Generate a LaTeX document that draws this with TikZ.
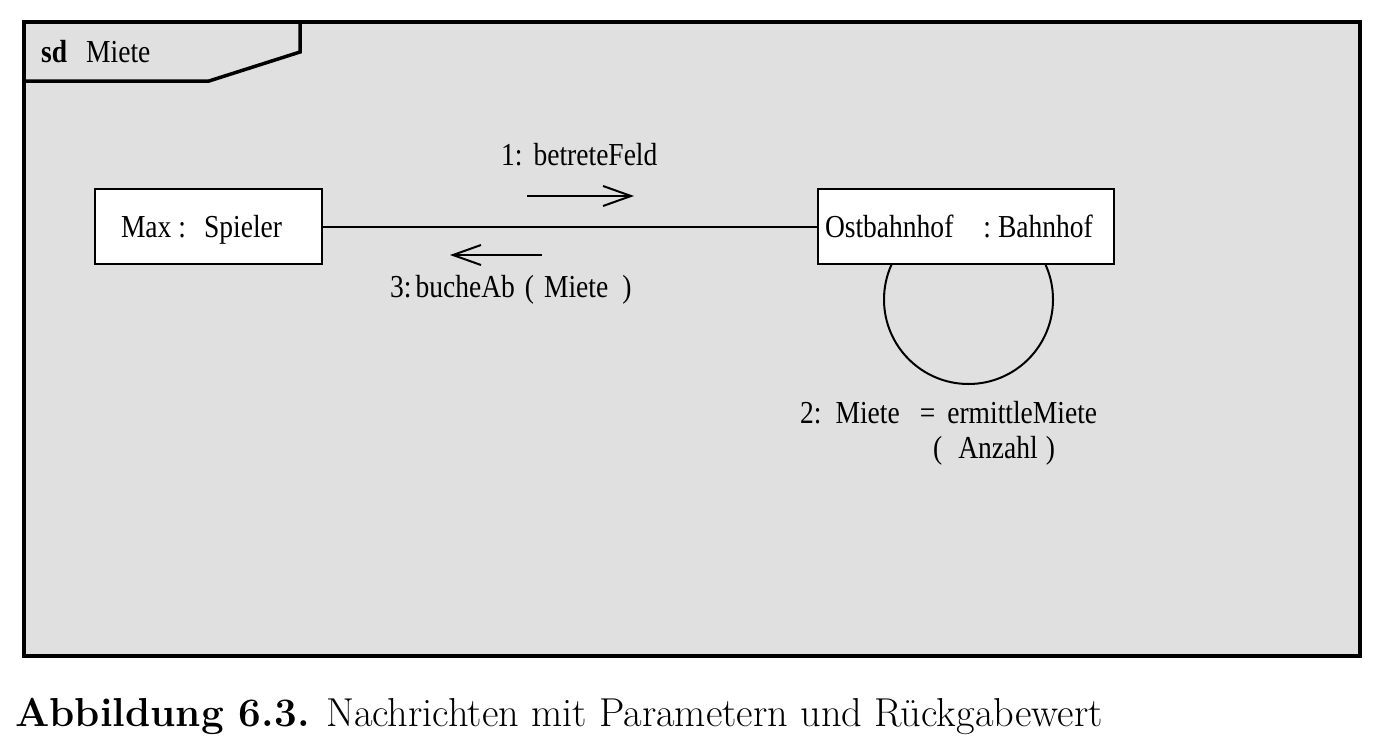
\documentclass[tikz,border=0pt]{standalone}
\usepackage{fontspec}
\setmainfont{Latin Modern Roman}
\newfontfamily\diag[FakeStretch=0.86]{Liberation Serif}
\usetikzlibrary{arrows.meta}
\definecolor{framegray}{HTML}{E0E0E0}
\begin{document}
\begin{tikzpicture}[x=1pt,y=-1pt,
  objbox/.style={draw=black,line width=2pt,fill=white,minimum height=75pt,align=left,text height=24pt,text depth=2pt,font=\diag\fontsize{32}{36}\selectfont},
  lbl/.style={font=\diag\fontsize{32}{36}\selectfont,inner sep=0pt,anchor=base west},
  msg/.style={line width=2pt,-{Straight Barb[length=28pt,width=20pt,line width=2pt]}}]
\useasboundingbox (0,0) rectangle (1373,736);
\fill[white] (0,0) rectangle (1373,736);
% frame
\draw[line width=4pt,fill=framegray] (24,22) rectangle (1360,656);
\draw[line width=3.5pt] (24,81) -- (209,81) -- (300,52) -- (300,22);
\node[lbl] (title) at (41,62) {\textbf{sd}\hspace{19pt}Miete};
% self loop
\draw[line width=2pt] (968.5,299.5) circle[radius=84.5];
% objects
\node[objbox,inner xsep=26pt,text width=175pt] (max) at (208.5,226.5) {Max\hspace{7pt}:\hspace{18pt}Spieler};
\node[objbox,inner xsep=7pt,text width=282pt] (ost) at (966,226.5) {Ostbahnhof\hspace{30pt}:\hspace{7pt}Bahnhof};
\draw[line width=2pt] (max.east) -- (ost.west);
% messages
\coordinate (a1s) at (527,196); \coordinate (a1e) at (634,196);
\coordinate (a2s) at (542,255); \coordinate (a2e) at (450,255);
\draw[msg] (a1s) -- (a1e);
\draw[msg] (a2s) -- (a2e);
\node[lbl] (m1) at (501,165) {1:\hspace{11pt}betreteFeld};
\node[lbl] (m3) at (390,297) {3:\hspace{4pt}bucheAb\hspace{10pt}(\hspace{10pt}Miete\hspace{14pt})};
\node[lbl] (m2) at (800,423) {2:\hspace{14pt}Miete\hspace{20pt}=\hspace{12pt}ermittleMiete};
\node[lbl] (m2b) at (933,458) {(\hspace{16pt}Anzahl\hspace{8pt})};
% caption
\node[anchor=base west,inner sep=0pt,font=\fontsize{40.4}{44}\selectfont] (cap) at (15,726) {\textbf{Abbildung 6.3.} Nachrichten mit Parametern und Rückgabewert};
\end{tikzpicture}
\end{document}
